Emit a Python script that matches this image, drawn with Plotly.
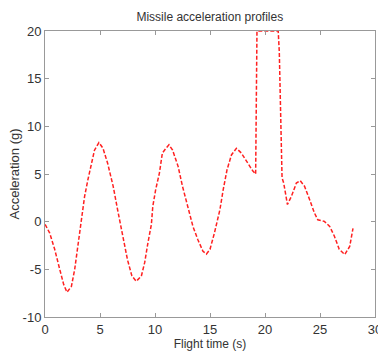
import plotly.graph_objects as go

# Flight time (s) and acceleration (g)
flight_time = [0.0, 0.06, 0.43, 0.88, 1.34, 1.7, 2.0, 2.4, 2.7, 3.0, 3.3, 3.6, 3.9, 4.2, 4.5, 4.9,
               5.27, 5.7, 6.2, 6.6, 7.1, 7.5, 7.9, 8.3, 8.76, 9.06, 9.36, 9.67, 9.8, 10.06, 10.4,
               10.67, 11.0, 11.27, 11.6, 12.1, 12.5, 13.0, 13.45, 13.9, 14.36, 14.67, 15.0, 15.4,
               15.9, 16.2, 16.55, 16.95, 17.4, 17.85, 18.45, 18.9, 19.15, 19.27, 20.0, 20.6, 21.2,
               21.3, 21.55, 21.7, 22.04, 22.4, 22.85, 23.2, 23.6, 24.06, 24.5, 24.8, 25.4, 25.88,
               26.3, 26.75, 27.25, 27.7, 28.0]
acceleration = [-0.3, -0.4, -1.2, -2.9, -5.0, -6.6, -7.4, -6.8, -5.0, -2.6, -0.1, 2.65, 4.4, 6.1, 7.5, 8.3,
                7.7, 6.1, 3.7, 1.25, -1.5, -4.0, -5.7, -6.25, -5.7, -4.3, -2.2, -0.3, 1.6, 3.35, 5.1,
                7.2, 7.7, 8.06, 7.5, 5.8, 3.7, 1.6, -0.5, -1.9, -3.1, -3.4, -2.9, -1.2,
                1.25, 3.35, 5.45, 7.0, 7.7, 7.2, 6.1, 5.3, 5.0, 20.0, 20.0, 20.0, 20.0,
                17.8, 4.6, 4.05, 1.8, 2.65, 4.05, 4.3, 3.7, 2.3, 0.9, 0.2, 0.03, -0.5,
                -1.5, -2.9, -3.45, -2.6, -0.7]

x_ticks = [0, 5, 10, 15, 20, 25, 30]
y_ticks = [-10, -5, 0, 5, 10, 15, 20]

FONT = "Liberation Sans, Arial, sans-serif"

fig = go.Figure()
fig.add_trace(go.Scatter(
    x=flight_time, y=acceleration, mode="lines",
    line=dict(color="#ff2020", width=1.5, dash="4px,2px"),
    showlegend=False,
))

axis_common = dict(
    showgrid=False, zeroline=False, showline=True, linecolor="#999999", linewidth=1,
    mirror="ticks", ticks="inside", ticklen=4, tickcolor="#999999", automargin=False,
    ticklabeloverflow="allow",
    tickfont=dict(family=FONT, size=13, color="#333333"),
)

fig.update_layout(
    width=378, height=354,
    margin=dict(l=45, r=3, t=31, b=37),
    paper_bgcolor="white", plot_bgcolor="white",
    title=dict(text="Missile acceleration profiles", x=0.555, xanchor="center", y=0.952, yanchor="middle",
               font=dict(family=FONT, size=12, color="#333333")),
    xaxis=dict(range=[0, 30], tickvals=x_ticks, ticktext=[str(v) for v in x_ticks],
               ticklabelstandoff=0,
               title=dict(text="Flight time (s)", standoff=0,
                          font=dict(family=FONT, size=12, color="#333333")),
               **axis_common),
    yaxis=dict(range=[-10, 20], tickvals=y_ticks, ticktext=[str(v) for v in y_ticks],
               ticklabelstandoff=0,
               title=dict(text="Acceleration (g)", standoff=0,
                          font=dict(family=FONT, size=13, color="#333333")),
               **axis_common),
)

fig.write_html("out.html", config={"displayModeBar": False},
               post_script="document.body.style.margin='0';")
